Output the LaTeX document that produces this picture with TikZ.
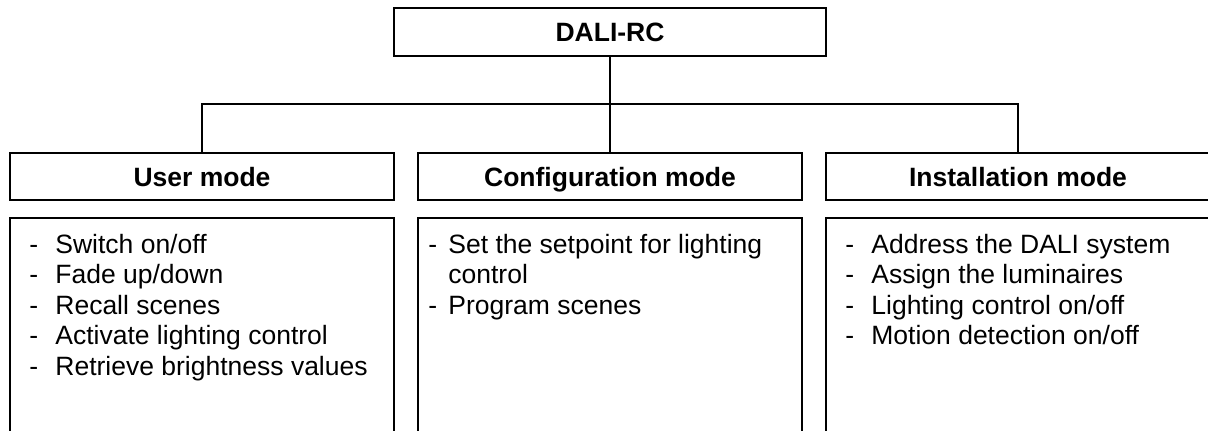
\documentclass[tikz,border=0pt]{standalone}
\usepackage{fontspec}
\setmainfont{Liberation Sans}
\newcommand\udash{\makebox[13pt][l]{-}}
\newcommand\cdash{\makebox[10pt][l]{-}}
\begin{document}
\begin{tikzpicture}[x=0.5pt,y=-0.5pt,
  title/.style={draw=black, line width=1pt, rectangle, inner sep=0pt,
    minimum width=192pt, minimum height=23.5pt, text depth=0pt,
    font=\bfseries\fontsize{13.25pt}{15.25pt}\selectfont},
  listbox/.style={draw=black, line width=1pt, rectangle, inner sep=0pt,
    minimum width=192pt, minimum height=113.5pt},
  itm/.style={anchor=base west, inner sep=0pt,
    font=\fontsize{13.25pt}{15.25pt}\selectfont},
  conn/.style={draw=black, line width=1pt}]
\useasboundingbox (0,0) rectangle (1208,430);
\clip (0,0) rectangle (1208,430);
% top box
\node[title, minimum width=216pt, minimum height=24pt] (dali) at (610,32) {DALI-RC};
% mode boxes
\node[title] (user) at (202,176.5) {User mode};
\node[title] (config) at (610,176.5) {Configuration mode};
\node[title] (install) at (1018,176.5) {Installation mode};
% list boxes
\node[listbox] (userlist) at (202,331.5) {};
\node[listbox] (configlist) at (610,331.5) {};
\node[listbox] (installlist) at (1018,331.5) {};
% connectors
\coordinate (bus) at (610,104);
\draw[conn] (dali.south) -- (config.north);
\draw[conn] (user.north) |- (bus) -| (install.north);
% user items
\node[itm] (u1) at (29,253) {\udash Switch on/off};
\node[itm] (u2) at (29,283.5) {\udash Fade up/down};
\node[itm] (u3) at (29,314) {\udash Recall scenes};
\node[itm] (u4) at (29,344.5) {\udash Activate lighting control};
\node[itm] (u5) at (29,375) {\udash Retrieve brightness values};
% config items
\node[itm] (c1) at (428,253) {\cdash Set the setpoint for lighting};
\node[itm] (c2) at (448,283.5) {control};
\node[itm] (c3) at (428,314) {\cdash Program scenes};
% install items
\node[itm] (i1) at (845,253) {\udash Address the DALI system};
\node[itm] (i2) at (845,283.5) {\udash Assign the luminaires};
\node[itm] (i3) at (845,314) {\udash Lighting control on/off};
\node[itm] (i4) at (845,344.5) {\udash Motion detection on/off};
\end{tikzpicture}
\end{document}
